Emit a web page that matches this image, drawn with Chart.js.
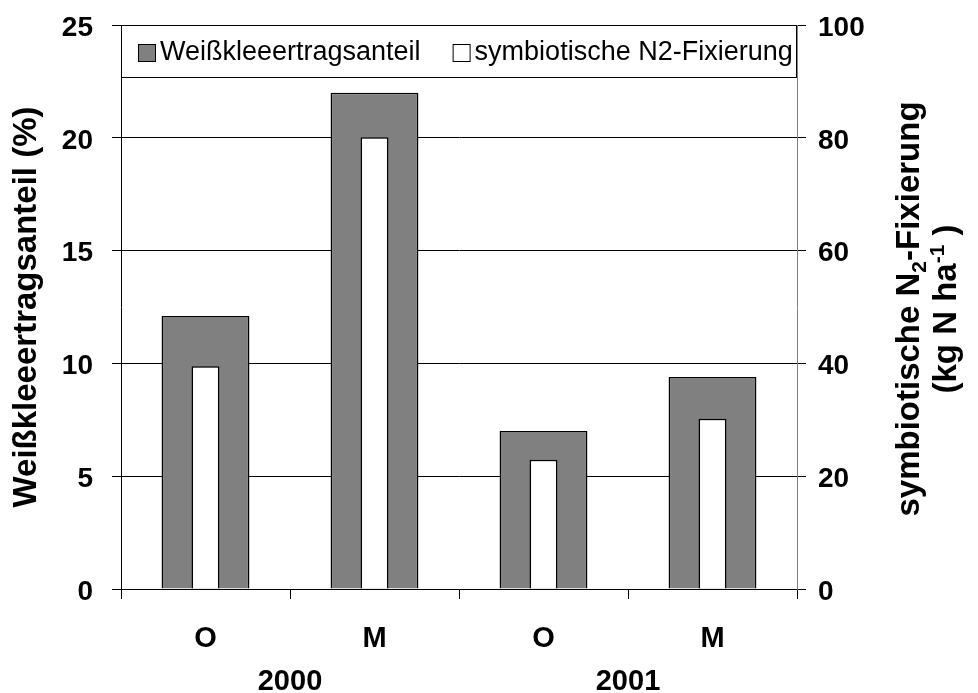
<!DOCTYPE html>
<html>
<head>
<meta charset="utf-8">
<script src="https://cdn.jsdelivr.net/npm/chart.js@4.4.0/dist/chart.umd.min.js"></script>
<style>
  body { margin: 0; background: #fff; }
  #wrap { width: 978px; height: 693px; }
</style>
</head>
<body>
<div id="wrap"><canvas id="kleeChart" width="978" height="693"></canvas></div>
<script>
// Werte
const categories = ["O", "M", "O", "M"];
const years = ["2000", "2001"];
const kleeAnteil = [12.1, 22.0, 7.0, 9.4];      // Weißkleeertragsanteil (%)
const n2Fixierung = [39.5, 80.1, 22.9, 30.2];   // kg N ha-1
const leftTicks = [0, 5, 10, 15, 20, 25];
const rightTicks = [0, 20, 40, 60, 80, 100];

const FONT = "'Liberation Sans', Arial, sans-serif";
Chart.defaults.font.family = FONT;
Chart.defaults.color = "#000";

// Legende als Kasten oben im Diagramm
const legendBox = {
  id: "legendBox",
  afterDatasetsDraw(chart) {
    const { ctx, chartArea } = chart;
    const top = chartArea.top;
    const h = 52;
    ctx.save();
    ctx.fillStyle = "#fff";
    ctx.fillRect(chartArea.left, top, chartArea.right - chartArea.left, h);
    ctx.strokeStyle = "#000";
    ctx.lineWidth = 1;
    ctx.strokeRect(chartArea.left + 0.5, top + 0.5, chartArea.right - chartArea.left - 1, h);
    ctx.font = "27px " + FONT;
    ctx.textBaseline = "middle";
    ctx.textAlign = "left";
    let x = chartArea.left + 17;
    const yMid = top + 28;
    chart.data.datasets.forEach((ds) => {
      ctx.fillStyle = ds.backgroundColor;
      ctx.fillRect(x, yMid - 9, 18, 18);
      ctx.strokeStyle = "#000";
      ctx.lineWidth = 1;
      ctx.strokeRect(x + 0.5, yMid - 8.5, 17, 17);
      ctx.fillStyle = "#000";
      ctx.fillText(ds.label, x + 22, yMid);
      x += 22 + ctx.measureText(ds.label).width + 32;
    });
    ctx.restore();
  },
};

// rechter Achsentitel mit Tief-/Hochstellung
const drawRich = (ctx, parts, bx, cy) => {
  const big = "bold 33px " + FONT;
  const small = "bold 21px " + FONT;
  let total = 0;
  parts.forEach((p) => {
    ctx.font = p.shift ? small : big;
    total += ctx.measureText(p.t).width;
  });
  ctx.save();
  ctx.translate(bx, cy);
  ctx.rotate(-Math.PI / 2);
  ctx.textBaseline = "alphabetic";
  ctx.textAlign = "left";
  ctx.fillStyle = "#000";
  let x = -total / 2;
  parts.forEach((p) => {
    ctx.font = p.shift ? small : big;
    ctx.fillText(p.t, x, p.shift || 0);
    x += ctx.measureText(p.t).width;
  });
  ctx.restore();
};

const rightTitle = {
  id: "rightTitle",
  afterDraw(chart) {
    const { ctx, chartArea } = chart;
    const cy = (chartArea.top + chartArea.bottom) / 2 + 2;
    drawRich(ctx, [{ t: "symbiotische N" }, { t: "2", shift: 7 }, { t: "-Fixierung" }], 919, cy);
    drawRich(ctx, [{ t: "(kg N ha" }, { t: "-1", shift: -12 }, { t: " )" }], 956, cy);
  },
};

// feste Achsenbreiten/-höhen, ohne automatische Randabstände
const fixSize = (w, h) => (scale) => {
  if (w) scale.width = w;
  if (h) scale.height = h;
  scale.paddingTop = 0;
  scale.paddingBottom = 0;
  scale.paddingLeft = 0;
  scale.paddingRight = 0;
};

const ctx = document.getElementById("kleeChart").getContext("2d");
const myChart = new Chart(ctx, {
  type: "bar",
  plugins: [legendBox, rightTitle],
  data: {
    labels: categories,
    datasets: [
      {
        label: "Weißkleeertragsanteil",
        data: kleeAnteil,
        yAxisID: "y",
        backgroundColor: "#808080",
        borderColor: "#000",
        borderWidth: 1.5,
        grouped: false,
        categoryPercentage: 1,
        barPercentage: 0.52,
        order: 2,
      },
      {
        label: "symbiotische N2-Fixierung",
        data: n2Fixierung,
        yAxisID: "y2",
        backgroundColor: "#ffffff",
        borderColor: "#000",
        borderWidth: 1.5,
        grouped: false,
        categoryPercentage: 1,
        barPercentage: 0.165,
        order: 1,
      },
    ],
  },
  options: {
    responsive: false,
    animation: false,
    layout: { padding: { top: 25, left: 0, right: 0, bottom: 0 } },
    plugins: {
      legend: { display: false },
      tooltip: { enabled: false },
    },
    scales: {
      x: {
        position: "bottom",
        weight: 0,
        grid: { display: true, drawOnChartArea: false, offset: true, tickLength: 10, color: "#000" },
        border: { display: true, color: "#000", width: 1 },
        ticks: { font: { size: 29, weight: "bold" }, padding: 23, color: "#000" },
        afterFit: fixSize(0, 60),
      },
      x2: {
        type: "category",
        labels: years,
        position: "bottom",
        weight: 1,
        offset: true,
        grid: { display: false },
        border: { display: false },
        ticks: { font: { size: 29, weight: "bold" }, padding: 8, color: "#000" },
        afterFit: fixSize(0, 44),
      },
      y: {
        position: "left",
        min: leftTicks[0],
        max: leftTicks[leftTicks.length - 1],
        ticks: {
          stepSize: leftTicks[1] - leftTicks[0],
          font: { size: 28, weight: "bold" },
          padding: 19,
          labelOffset: 3,
          color: "#000",
        },
        grid: { color: "#000", lineWidth: 1, tickLength: 9 },
        border: { display: true, color: "#000", width: 1 },
        title: {
          display: true,
          text: "Weißkleeertragsanteil (%)",
          font: { size: 33, weight: "bold" },
          padding: { top: 7, bottom: 0 },
          color: "#000",
        },
        afterFit: fixSize(121, 0),
      },
      y2: {
        position: "right",
        min: rightTicks[0],
        max: rightTicks[rightTicks.length - 1],
        ticks: {
          stepSize: rightTicks[1] - rightTicks[0],
          font: { size: 28, weight: "bold" },
          padding: 12,
          labelOffset: 3,
          color: "#000",
        },
        grid: { drawOnChartArea: false, color: "#000", tickLength: 9 },
        border: { display: true, color: "#808080", width: 1 },
        afterFit: fixSize(181, 0),
      },
    },
  },
});
</script>
</body>
</html>
